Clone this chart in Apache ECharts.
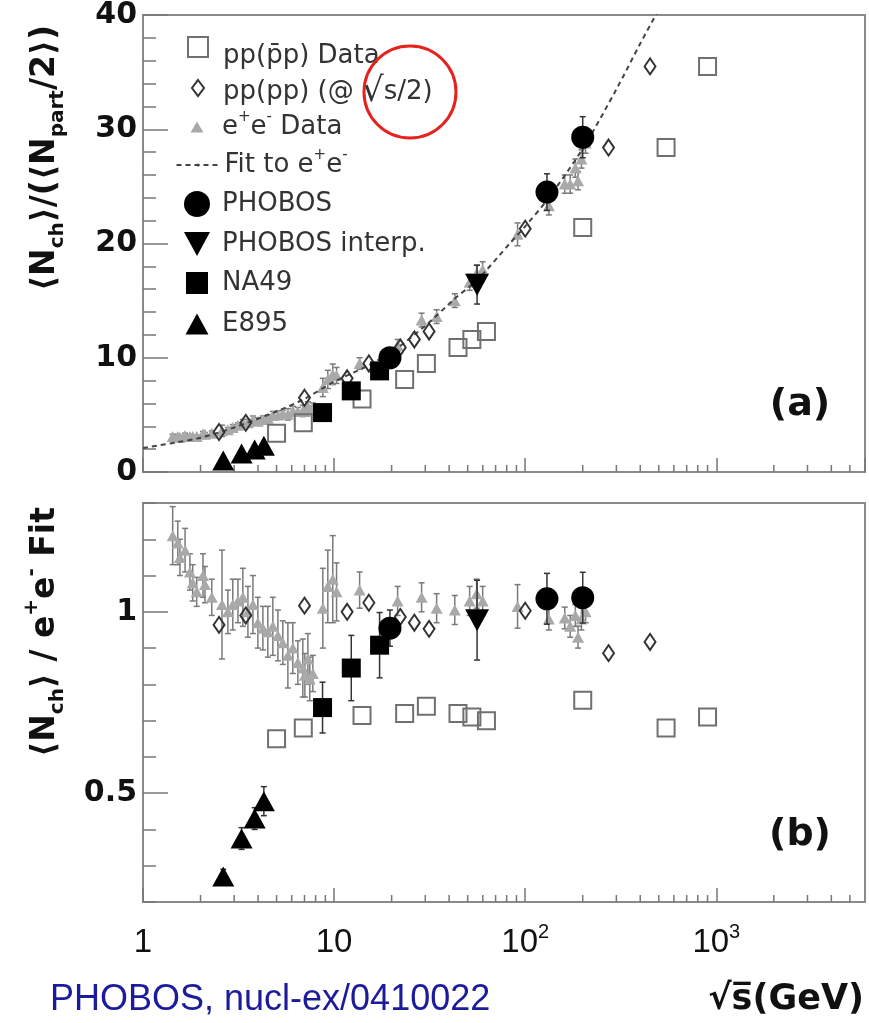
<!DOCTYPE html>
<html>
<head>
<meta charset="utf-8">
<script src="https://cdn.jsdelivr.net/npm/echarts@6/dist/echarts.min.js"></script>
<style>
  html, body { margin: 0; padding: 0; background: #fff; }
  #chart { width: 869px; height: 1023px; }
</style>
</head>
<body>
<div id="chart"></div>
<script>
// ---- data ----
// pp(pbar p) data
var ppS     = [5.0, 6.9, 14, 23.4, 30.4, 44.5, 52.6, 62.7, 200, 546, 900];
var ppTop   = [3.4, 4.3, 6.4, 8.1, 9.5, 10.9, 11.6, 12.3, 21.4, 28.4, 35.5];
var ppRatio = [0.65, 0.68, 0.714, 0.72, 0.74, 0.72, 0.71, 0.70, 0.756, 0.68, 0.71];

// pp plotted at sqrt(s)/2
var ppHalfS     = [2.5, 3.45, 7.0, 11.7, 15.2, 22.2, 26.3, 31.4, 100, 273, 450];
var ppHalfTop   = [3.5, 4.3, 6.5, 8.2, 9.5, 10.9, 11.6, 12.3, 21.3, 28.4, 35.5];
var ppHalfRatio = [0.964, 0.99, 1.017, 1.0, 1.025, 0.986, 0.97, 0.953, 1.003, 0.886, 0.917];

// e+e- data
var eeS = [1.43, 1.52, 1.56, 1.66, 1.76, 1.82, 1.91, 2.06, 2.11, 2.29,
           2.59, 2.78, 2.95, 3.14, 3.33, 3.54, 3.76, 3.99, 4.24, 4.5,
           4.78, 5.08, 5.39, 5.73, 6.08, 6.46, 6.86, 7.03, 7.29, 7.46,
           7.74, 8.73, 9.27, 9.84, 10.3, 13.6, 21.5, 28.7, 34.4, 42.8,
           51.2, 55.7, 59.9, 91.2, 133, 161, 172, 183, 189, 197, 207];
var eeTop = [3.1, 3.1, 3.05, 3.2, 3.1, 3.1, 3.1, 3.35, 3.3, 3.4,
             3.6, 3.7, 3.9, 4.1, 4.3, 4.3, 4.55, 4.45, 4.6, 4.7,
             4.95, 5.0, 5.1, 5.05, 5.35, 5.3, 5.35, 5.3, 5.75, 5.45,
             5.7, 7.4, 8.1, 8.55, 8.45, 9.5, 11.1, 13.3, 13.6, 15.0,
             16.6, 17.4, 17.7, 20.8, 23.3, 25.2, 25.2, 26.6, 25.5, 27.4, 28.8];
var eeTopErr = [0.2, 0.2, 0.15, 0.2, 0.15, 0.15, 0.15, 0.2, 0.15, 0.2,
                0.5, 0.2, 0.25, 0.2, 0.3, 0.3, 0.35, 0.3, 0.3, 0.3,
                0.35, 0.35, 0.3, 0.5, 0.4, 0.35, 0.5, 0.4, 0.4, 0.35,
                0.35, 0.8, 0.8, 0.9, 0.7, 0.5, 0.5, 0.6, 0.6, 0.6,
                0.7, 0.7, 0.7, 1.0, 0.8, 0.8, 0.8, 0.8, 0.8, 0.8, 0.9];
var eeRatio = [1.21, 1.19, 1.15, 1.17, 1.11, 1.08, 1.055, 1.10, 1.075, 1.04,
               1.02, 1.0, 1.02, 1.03, 1.04, 1.0, 1.02, 0.97, 0.955, 0.945,
               0.96, 0.935, 0.915, 0.88, 0.9, 0.86, 0.845, 0.825, 0.87, 0.815,
               0.83, 1.01, 1.07, 1.09, 1.055, 1.06, 1.03, 1.04, 1.01, 1.005,
               1.03, 1.05, 1.03, 1.015, 0.98, 0.983, 0.96, 0.99, 0.93, 0.98, 1.0];
var eeRatioErr = [0.08, 0.06, 0.05, 0.06, 0.05, 0.05, 0.04, 0.06, 0.05, 0.05,
                  0.15, 0.06, 0.07, 0.06, 0.08, 0.07, 0.08, 0.07, 0.06, 0.07,
                  0.08, 0.07, 0.06, 0.09, 0.07, 0.06, 0.08, 0.06, 0.07, 0.06,
                  0.05, 0.11, 0.10, 0.12, 0.08, 0.05, 0.04, 0.04, 0.04, 0.04,
                  0.04, 0.04, 0.04, 0.06, 0.03, 0.03, 0.03, 0.03, 0.03, 0.03, 0.03];

// fit to e+e- (dashed line, top panel)
var fitS = [1, 1.5, 2, 3, 5, 7, 10, 15, 20, 30, 43, 56, 83, 100, 130, 200, 300, 400, 520];
var fitV = [2.1, 2.6, 3.0, 3.9, 5.3, 6.4, 7.9, 9.3, 10.5, 12.8, 15.2, 16.8, 20.0, 21.5, 23.8, 28.3, 33.5, 37.5, 41];

// PHOBOS
var phobosS = [19.6, 130, 200];
var phobosTop = [10.0, 24.5, 29.3];
var phobosTopErr = [0.8, 1.6, 1.8];
var phobosRatio = [0.955, 1.036, 1.039];
var phobosRatioErr = [0.05, 0.07, 0.07];

// PHOBOS interpolated
var interpS = [56];
var interpTop = [16.4];
var interpTopErr = [1.7];
var interpRatio = [0.977];
var interpRatioErr = [0.11];

// NA49
var na49S = [8.7, 12.3, 17.3];
var na49Top = [5.2, 7.1, 8.85];
var na49Ratio = [0.736, 0.845, 0.908];
var na49RatioErr = [0.07, 0.09, 0.09];

// E895
var e895S = [2.63, 3.28, 3.84, 4.29];
var e895Top = [1.0, 1.62, 1.97, 2.3];
var e895Ratio = [0.27, 0.375, 0.43, 0.478];
var e895RatioErr = [0.02, 0.03, 0.03, 0.04];

// ticks
var xTickValues = [1, 10, 100, 1000];
var xTickLabels = ['1', '10', '10{sup|2}', '10{sup|3}'];
var xMinorTicks = [2, 3, 4, 5, 6, 7, 8, 9, 20, 30, 40, 50, 60, 70, 80, 90,
                   200, 300, 400, 500, 600, 700, 800, 900, 2000, 3000, 4000, 5000];
var ratioTickValues = [0.5, 1];
var ratioTickLabels = ['0.5', '1'];

// ---- helpers ----
function pairs(xs, ys) {
  return xs.map(function (x, i) { return [x, ys[i]]; });
}
function bars(xs, ys, es) {
  return xs.map(function (x, i) { return [x, ys[i] - es[i], ys[i] + es[i]]; });
}

function errSeries(data, panel, color, z) {
  return {
    type: 'custom', xAxisIndex: panel, yAxisIndex: panel, data: data, z: z,
    clip: true, silent: true, encode: { x: 0, y: [1, 2] },
    renderItem: function (params, api) {
      var x = api.value(0);
      var lo = api.coord([x, api.value(1)]);
      var hi = api.coord([x, api.value(2)]);
      var c = 3, st = { stroke: color, lineWidth: 1.5 };
      return {
        type: 'group', children: [
          { type: 'line', shape: { x1: lo[0], y1: lo[1], x2: hi[0], y2: hi[1] }, style: st },
          { type: 'line', shape: { x1: lo[0] - c, y1: lo[1], x2: lo[0] + c, y2: lo[1] }, style: st },
          { type: 'line', shape: { x1: hi[0] - c, y1: hi[1], x2: hi[0] + c, y2: hi[1] }, style: st }
        ]
      };
    }
  };
}

// log minor ticks along the bottom edge of a panel
function minorTickSeries(panel, yMin) {
  return {
    type: 'custom', xAxisIndex: panel, yAxisIndex: panel, z: 1, silent: true,
    data: xMinorTicks.map(function (v) { return [v, yMin]; }),
    renderItem: function (params, api) {
      var p = api.coord([api.value(0), api.value(1)]);
      return { type: 'line', shape: { x1: p[0], y1: p[1], x2: p[0], y2: p[1] - 7 },
               style: { stroke: '#777', lineWidth: 1.5 } };
    }
  };
}

var axisColor = '#8a8a8a';
var tickStyle = { color: '#777', width: 1.5 };
var boldFont = 'DejaVu Sans';
var downTriangle = 'path://M0,0L20,0L10,18Z';

var markers = {
  pp:     { symbol: 'rect', symbolSize: 17, itemStyle: { color: 'rgba(255,255,255,0)', borderColor: '#707070', borderWidth: 2, opacity: 1 } },
  ppHalf: { symbol: 'diamond', symbolSize: [11, 16], itemStyle: { color: 'rgba(255,255,255,0)', borderColor: '#333', borderWidth: 2, opacity: 1 } },
  ee:     { symbol: 'triangle', symbolSize: [12, 11], itemStyle: { color: '#a9a9a9', opacity: 1 } },
  phobos: { symbol: 'circle', symbolSize: 23, itemStyle: { color: '#000', opacity: 1 } },
  interp: { symbol: downTriangle, symbolSize: [24, 22], itemStyle: { color: '#000', opacity: 1 } },
  na49:   { symbol: 'rect', symbolSize: 19, itemStyle: { color: '#000', opacity: 1 } },
  e895:   { symbol: 'triangle', symbolSize: [22, 20], itemStyle: { color: '#000', opacity: 1 } }
};

function scatter(name, panel, data, z) {
  var m = markers[name];
  return {
    type: 'scatter', name: name, xAxisIndex: panel, yAxisIndex: panel, data: data, z: z,
    symbol: m.symbol, symbolSize: m.symbolSize, symbolKeepAspect: false,
    itemStyle: m.itemStyle, clip: true, silent: true
  };
}

var series = [
  minorTickSeries(0, 0),
  minorTickSeries(1, 0.2),

  // top panel
  errSeries(bars(eeS, eeTop, eeTopErr), 0, '#7a7a7a', 2),
  scatter('ee', 0, pairs(eeS, eeTop), 3),
  {
    type: 'line', name: 'fit', xAxisIndex: 0, yAxisIndex: 0, data: pairs(fitS, fitV),
    symbol: 'none', showSymbol: false, smooth: 0.3, clip: true, z: 4, silent: true,
    lineStyle: { color: '#444', width: 2, type: [5, 4] }, itemStyle: { color: '#444' }
  },
  scatter('pp', 0, pairs(ppS, ppTop), 5),
  scatter('ppHalf', 0, pairs(ppHalfS, ppHalfTop), 5),
  errSeries(bars(phobosS, phobosTop, phobosTopErr), 0, '#333', 6),
  errSeries(bars(interpS, interpTop, interpTopErr), 0, '#333', 6),
  scatter('na49', 0, pairs(na49S, na49Top), 7),
  scatter('e895', 0, pairs(e895S, e895Top), 7),
  scatter('interp', 0, pairs(interpS, interpTop), 7),
  scatter('phobos', 0, pairs(phobosS, phobosTop), 7),

  // bottom panel (ratio to fit)
  errSeries(bars(eeS, eeRatio, eeRatioErr), 1, '#7a7a7a', 2),
  scatter('ee', 1, pairs(eeS, eeRatio), 3),
  scatter('pp', 1, pairs(ppS, ppRatio), 5),
  scatter('ppHalf', 1, pairs(ppHalfS, ppHalfRatio), 5),
  errSeries(bars(phobosS, phobosRatio, phobosRatioErr), 1, '#333', 6),
  errSeries(bars(interpS, interpRatio, interpRatioErr), 1, '#333', 6),
  errSeries(bars(na49S, na49Ratio, na49RatioErr), 1, '#333', 6),
  errSeries(bars(e895S, e895Ratio, e895RatioErr), 1, '#333', 6),
  scatter('na49', 1, pairs(na49S, na49Ratio), 7),
  scatter('e895', 1, pairs(e895S, e895Ratio), 7),
  scatter('interp', 1, pairs(interpS, interpRatio), 7),
  scatter('phobos', 1, pairs(phobosS, phobosRatio), 7)
];

// legend: one small legend per entry so symbol sizes can differ
var legendText = {
  pp: 'pp(p\u0304p) Data',
  ppHalf: 'pp(pp) (@ {rad|\u221A}s/2)',
  ee: 'e{sup|+}e{sup|-} Data',
  fit: 'Fit to e{sup|+}e{sup|-}',
  phobos: 'PHOBOS',
  interp: 'PHOBOS interp.',
  na49: 'NA49',
  e895: 'E895'
};
var legendLayout = [
  { name: 'pp',     cy: 47,  w: 20, h: 20, dy: 9 },
  { name: 'ppHalf', cy: 88,  w: 12, h: 16, dy: 4 },
  { name: 'ee',     cy: 127, w: 13, h: 11, dy: 0 },
  { name: 'fit',    cy: 165, w: 43, h: 4,  dy: 0 },
  { name: 'phobos', cy: 204, w: 26, h: 26, dy: 0 },
  { name: 'interp', cy: 244, w: 26, h: 24, dy: 0, icon: downTriangle },
  { name: 'na49',   cy: 283, w: 22, h: 22, dy: 0 },
  { name: 'e895',   cy: 324, w: 23, h: 21, dy: 0 }
];
var legendLine = 34;
var legends = legendLayout.map(function (it) {
  var boxH = legendLine + 2 * it.dy;
  var padL = Math.max(0, 20 - it.w / 2);
  var item = it.icon ? { name: it.name, icon: it.icon } : it.name;
  return {
    data: [item], orient: 'vertical', selectedMode: false, padding: 0, itemGap: 0,
    left: 197 - it.w / 2, top: it.cy - Math.max(it.h, boxH) / 2,
    itemWidth: it.w, itemHeight: it.h, symbolKeepAspect: false,
    formatter: function (name) { return legendText[name]; },
    textStyle: {
      fontFamily: 'DejaVu Sans', fontSize: 26, color: '#333', lineHeight: legendLine,
      padding: [2 * it.dy, 0, 0, padL],
      rich: {
        sup: { fontSize: 15, lineHeight: legendLine, verticalAlign: 'top', color: '#333', fontFamily: 'DejaVu Sans' },
        rad: { fontSize: 34, lineHeight: legendLine, color: '#333', fontFamily: 'DejaVu Sans' }
      }
    }
  };
});

var option = {
  backgroundColor: '#fff',
  animation: false,
  grid: [
    { left: 143, top: 15, width: 722, height: 457, show: true, borderColor: axisColor, borderWidth: 2,
      backgroundColor: '#fff', outerBoundsMode: 'none', containLabel: false },
    { left: 143, top: 503, width: 722, height: 399, show: true, borderColor: axisColor, borderWidth: 2,
      backgroundColor: '#fff', outerBoundsMode: 'none', containLabel: false }
  ],
  legend: legends,
  xAxis: [0, 1].map(function (g) {
    return {
      type: 'log', logBase: 10, gridIndex: g, min: 1, max: 6000,
      axisLine: { show: true, lineStyle: { color: axisColor, width: 2 } },
      axisTick: { inside: true, length: 14, lineStyle: tickStyle },
      splitLine: { show: false },
      axisLabel: {
        show: g === 1, margin: 20, showMaxLabel: false,
        fontFamily: '"Liberation Sans Narrow", "Liberation Sans", sans-serif', fontSize: 33, color: '#111', lineHeight: 42,
        formatter: function (v) {
          var i = xTickValues.indexOf(Math.round(v));
          return i >= 0 ? xTickLabels[i] : '';
        },
        rich: { sup: { fontSize: 20, lineHeight: 42, verticalAlign: 'top', color: '#111',
                       fontFamily: '"Liberation Sans Narrow", "Liberation Sans", sans-serif' } }
      }
    };
  }),
  yAxis: [
    {
      type: 'value', gridIndex: 0, min: 0, max: 40, interval: 10, position: 'left',
      axisLine: { show: true, lineStyle: { color: axisColor, width: 2 } },
      axisTick: { inside: true, length: 25, lineStyle: tickStyle },
      minorTick: { show: true, splitNumber: 5, length: 13, lineStyle: tickStyle },
      splitLine: { show: false },
      axisLabel: { fontFamily: boldFont, fontWeight: 'bold', fontSize: 30, color: '#111', margin: 6 }
    },
    {
      type: 'value', gridIndex: 1, min: 0.2, max: 1.3, interval: 0.1, position: 'left',
      axisLine: { show: true, lineStyle: { color: axisColor, width: 2 } },
      axisTick: { inside: true, length: 13, lineStyle: tickStyle },
      splitLine: { show: false },
      axisLabel: { show: false }
    },
    {
      type: 'value', gridIndex: 1, min: 0.2, max: 1.3, interval: 0.1, position: 'left', offset: 0,
      axisLine: { show: false },
      axisTick: { inside: true, length: 25, lineStyle: tickStyle, customValues: ratioTickValues },
      splitLine: { show: false },
      axisLabel: {
        customValues: ratioTickValues,
        formatter: function (v) {
          var i = ratioTickValues.indexOf(Math.round(v * 10) / 10);
          return i >= 0 ? ratioTickLabels[i] : '';
        },
        fontFamily: boldFont, fontWeight: 'bold', fontSize: 30, color: '#111', margin: 6
      }
    }
  ],
  graphic: [
    {
      type: 'text', x: 45, y: 158, rotation: Math.PI / 2,
      style: {
        text: '\u27E8N{sub|ch}\u27E9/(\u27E8N{sub|part}/2\u27E9)',
        fontFamily: boldFont, fontWeight: 'bold', fontSize: 33, fill: '#111', lineHeight: 46,
        align: 'center', verticalAlign: 'middle',
        rich: { sub: { fontSize: 20, fontWeight: 'bold', fontFamily: boldFont, lineHeight: 46, verticalAlign: 'bottom', fill: '#111' } }
      }
    },
    {
      type: 'text', x: 45, y: 632, rotation: Math.PI / 2,
      style: {
        text: '\u27E8N{sub|ch}\u27E9 / e{sup|+}e{sup|-} Fit',
        fontFamily: boldFont, fontWeight: 'bold', fontSize: 33, fill: '#111', lineHeight: 46,
        align: 'center', verticalAlign: 'middle',
        rich: {
          sub: { fontSize: 20, fontWeight: 'bold', fontFamily: boldFont, lineHeight: 46, verticalAlign: 'bottom', fill: '#111' },
          sup: { fontSize: 20, fontWeight: 'bold', fontFamily: boldFont, lineHeight: 46, verticalAlign: 'top', fill: '#111' }
        }
      }
    },
    { type: 'text', x: 800, y: 405, style: { text: '(a)', fontFamily: boldFont, fontWeight: 'bold', fontSize: 38, fill: '#111', align: 'center', verticalAlign: 'middle' } },
    { type: 'text', x: 800, y: 835, style: { text: '(b)', fontFamily: boldFont, fontWeight: 'bold', fontSize: 38, fill: '#111', align: 'center', verticalAlign: 'middle' } },
    { type: 'text', x: 864, y: 1000, style: { text: '\u221As\u0305(GeV)', fontFamily: boldFont, fontWeight: 'bold', fontSize: 35, fill: '#111', align: 'right', verticalAlign: 'middle' } },
    { type: 'text', x: 50, y: 1000, style: { text: 'PHOBOS, nucl-ex/0410022', fontFamily: 'Liberation Sans', fontSize: 36, fill: '#1b1b9b', align: 'left', verticalAlign: 'middle' } },
    { type: 'circle', shape: { cx: 410, cy: 92, r: 46 }, style: { fill: null, stroke: '#e5231d', lineWidth: 3 }, z: 100 }
  ],
  series: series
};

var chart = echarts.init(document.getElementById('chart'), null, { renderer: 'canvas' });
chart.setOption(option);
</script>
</body>
</html>
